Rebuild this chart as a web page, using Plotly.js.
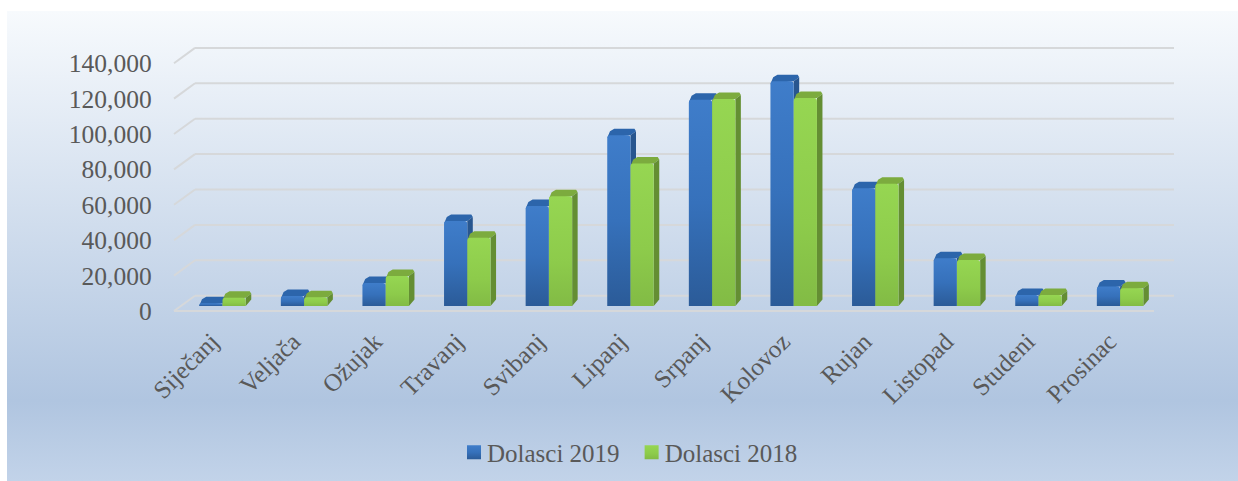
<!DOCTYPE html>
<html><head><meta charset="utf-8">
<script src="https://cdn.plot.ly/plotly-3.0.1.min.js"></script>
<style>
html,body{margin:0;padding:0;background:#fff;width:1238px;height:481px;overflow:hidden}
#panel{position:absolute;left:7px;top:11px;width:1231px;height:470px;
background:linear-gradient(to bottom,#f7fafd 0%,#b0c5e0 83%,#c2d3e9 100%)}
#chart{position:absolute;left:0;top:0;width:1238px;height:481px}
</style></head><body>
<div id="panel"></div><div id="chart"></div>
<script>
var months=["Siječanj","Veljača","Ožujak","Travanj","Svibanj","Lipanj","Srpanj","Kolovoz","Rujan","Listopad","Studeni","Prosinac"];
var dolasci2019=[1500,5600,13000,48000,56500,96500,116500,127000,66500,27000,6200,11000];
var dolasci2018=[4700,5000,17000,38500,62000,80500,117000,117500,69000,26000,6200,10000];
var yTicks=[0,20000,40000,60000,80000,100000,120000,140000];

var W=1238,H=481;
var plotL=181.7,plotR=1160.9,base=306,top140=58.2;
var pxPerCat=(plotR-plotL)/12, pxPerVal=(base-top140)/140000;
var dx=5.5/pxPerCat, dy=6.5/pxPerVal, cx=1.5/pxPerCat, cy=2.5/pxPerVal;
var bargap=0.43, bw=(1-bargap)/2;

function faces(vals,offset){
  var t={x:[],y:[]},s={x:[],y:[]};
  vals.forEach(function(v,i){
    var x0=i+offset*bw,x1=x0+bw;
    var low=Math.max(0,v-cy);
    // top face with softened (bevelled) rear corners
    t.x.push(x0,x0+0.5*dx,x0+dx+cx,x1+dx-cx,x1+dx,x1,x0,null);
    t.y.push(low,v+dy-cy,v+dy,v+dy,v+dy-cy,v,low,null);
    s.x.push(x1,x1+dx,x1+dx,x1,x1,null);s.y.push(0,dy,v+dy-cy,v,0,null);
  });
  return {top:t,side:s};
}
function poly(d,c){return {type:'scatter',mode:'lines',x:d.x,y:d.y,fill:'toself',fillcolor:c,
  line:{width:0,color:c},hoverinfo:'skip',showlegend:false,xaxis:'x',yaxis:'y'};}
var f19=faces(dolasci2019,-1),f18=faces(dolasci2018,0);
var traces=[
  poly(f19.top,'#2c65ab'),poly(f19.side,'#28568f'),
  poly(f18.top,'#7cab3e'),poly(f18.side,'#648e33'),
  {type:'bar',name:'Dolasci 2019',x:months,y:dolasci2019,marker:{color:'#3671b9'},xaxis:'x2',yaxis:'y2'},
  {type:'bar',name:'Dolasci 2018',x:months,y:dolasci2018,marker:{color:'#8ccb4a'},xaxis:'x2',yaxis:'y2'}
];

var shapes=[];
function ln(x0,y0,x1,y1){shapes.push({type:'line',layer:'below',xref:'paper',yref:'paper',
  x0:x0/W,x1:x1/W,y0:1-y0/H,y1:1-y1/H,line:{color:'#d6d8da',width:2}});}
yTicks.forEach(function(v){
  var d=v*pxPerVal;
  ln(195,295.7-d,1174,295.7-d);
  ln(174,311-d,195,295.7-d);
});
ln(174,311,1154,311);

var font={family:'"Liberation Serif",serif',size:25,color:'#595959'};
var tickFont={family:'"Liberation Serif",serif',size:25.5,color:'#595959'};
var dom=[plotL/W,plotR/W], yd=[1-base/H,1-top140/H];
var layout={
  width:W,height:H,margin:{l:0,r:0,t:0,b:0},autosize:false,
  paper_bgcolor:'rgba(0,0,0,0)',plot_bgcolor:'rgba(0,0,0,0)',
  font:font,barmode:'group',bargap:bargap,bargroupgap:0,barcornerradius:3,shapes:shapes,
  xaxis:{domain:dom,range:[-0.5,11.5],tickmode:'array',tickvals:months.map(function(m,i){return i;}),ticktext:months,
    tickangle:-45,showgrid:false,zeroline:false,showline:false,ticks:'',ticklabelstandoff:15,ticklabelshift:-11,tickfont:font,anchor:'y'},
  yaxis:{domain:yd,range:[0,140000],tickmode:'array',tickvals:yTicks,tickformat:',d',showgrid:false,zeroline:false,
    showline:false,ticks:'',ticklabelstandoff:29,ticklabelshift:5,tickfont:tickFont,anchor:'x'},
  xaxis2:{domain:dom,range:[-0.5,11.5],type:'category',categoryarray:months,overlaying:'x',showticklabels:false,
    showgrid:false,zeroline:false,anchor:'y2'},
  yaxis2:{domain:yd,range:[0,140000],overlaying:'y',showticklabels:false,showgrid:false,zeroline:false,anchor:'x2'},
  legend:{orientation:'h',x:0.5+6/W,xanchor:'center',y:1-452.5/H,yanchor:'middle',font:font,bgcolor:'rgba(0,0,0,0)'},
  showlegend:true
};
Plotly.newPlot('chart',traces,layout,{displayModeBar:false,staticPlot:true}).then(function(gd){
  var svg=gd.querySelector('svg.main-svg');
  var ns='http://www.w3.org/2000/svg';
  var defs=document.createElementNS(ns,'defs');
  function grad(id,stops){var g=document.createElementNS(ns,'linearGradient');
    g.setAttribute('id',id);g.setAttribute('x1','0');g.setAttribute('y1','0');g.setAttribute('x2','0');g.setAttribute('y2','1');
    stops.forEach(function(s){var e=document.createElementNS(ns,'stop');e.setAttribute('offset',s[0]);e.setAttribute('stop-color',s[1]);g.appendChild(e);});
    defs.appendChild(g);}
  grad('gb',[[0,'#3f7dca'],[0.5,'#3671bb'],[1,'#2b5b98']]);
  grad('gg',[[0,'#96d652'],[0.6,'#8dcb4b'],[1,'#82bb45']]);
  svg.appendChild(defs);
  var ids=['gb','gg'];
  gd.querySelectorAll('.barlayer .trace').forEach(function(t,i){
    t.querySelectorAll('path').forEach(function(p){p.style.fill='url(#'+ids[i]+')';});
  });
  gd.querySelectorAll('.legend .traces').forEach(function(t,i){
    t.querySelectorAll('.legendpoints path').forEach(function(p){
      p.setAttribute('d','M7,7H-7V-7H7Z');
      p.setAttribute('transform','translate(27,0)');
      p.style.fill='url(#'+ids[i]+')';
    });
  });
});
</script></body></html>
